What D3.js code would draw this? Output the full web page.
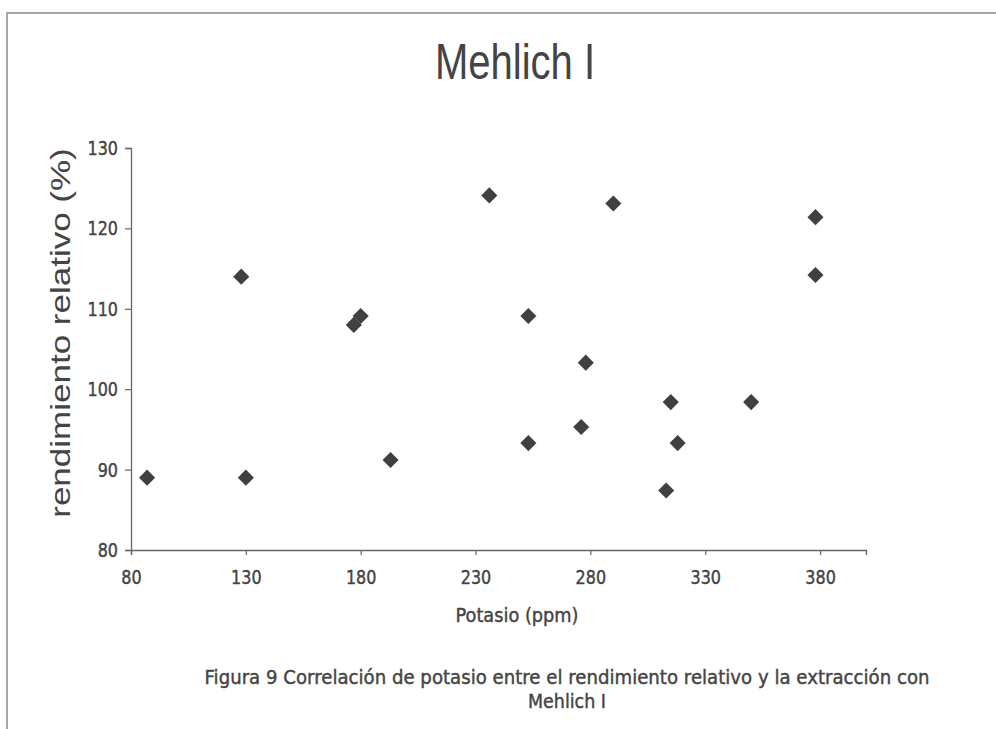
<!DOCTYPE html>
<html>
<head>
<meta charset="utf-8">
<script src="https://cdn.jsdelivr.net/npm/d3@7"></script>
<style>
  body { margin: 0; background: #fff; }
</style>
</head>
<body>
<div id="graph"></div>
<script>
// potasio (ppm) vs rendimiento relativo (%)
const potasio = [87, 128, 130, 177, 180, 193, 236, 253, 253, 276, 278, 290, 313, 315, 318, 350, 378, 378];
const rendimiento = [89, 114, 89, 108, 109.1, 91.2, 124.1, 109.1, 93.3, 95.3, 103.3, 123.1, 87.4, 98.4, 93.3, 98.4, 121.4, 114.2];
const xTicks = [80, 130, 180, 230, 280, 330, 380];
const yTicks = [80, 90, 100, 110, 120, 130];

const W = 996, H = 729;
const margin = { top: 148, right: 130, bottom: 179, left: 131 };
const stretch = 1.25; // scanned picture is taller than it is wide

const svg = d3.select("#graph")
  .append("svg")
  .attr("width", W)
  .attr("height", H);

// page frame (top and left edge of the scan)
svg.append("path")
  .attr("d", "M7,729 L7,13 L996,13")
  .attr("fill", "none")
  .attr("stroke", "#8a8a8a")
  .attr("stroke-width", 1.5);

const x = d3.scaleLinear().domain([80, 400]).range([margin.left, W - margin.right]);
const y = d3.scaleLinear().domain([80, 130]).range([H - margin.bottom, margin.top]);

const tickFont = "'DejaVu Sans', Verdana, sans-serif";

// x axis
const gx = svg.append("g")
  .attr("transform", "translate(0," + (H - margin.bottom) + ")")
  .call(d3.axisBottom(x).tickValues(xTicks).tickSizeOuter(0).tickSize(5).tickPadding(8));

// y axis
const gy = svg.append("g")
  .attr("transform", "translate(" + margin.left + ",0)")
  .call(d3.axisLeft(y).tickValues(yTicks).tickSizeOuter(0).tickSize(6).tickPadding(7));

[gx, gy].forEach(g => {
  g.select(".domain").attr("stroke", "#666").attr("stroke-width", 1.3);
  g.selectAll(".tick line").attr("stroke", "#666").attr("stroke-width", 1.2);
  g.selectAll(".tick text")
    .attr("fill", "#444")
    .attr("stroke", "#444")
    .attr("stroke-width", 0.35)
    .style("font-family", tickFont)
    .style("font-size", "16px");
});
gx.selectAll(".tick text").attr("transform", "scale(1," + stretch + ")").attr("y", 16);
gy.selectAll(".tick text").attr("transform", "scale(1," + stretch + ")");

// points: grey diamonds
svg.append("g")
  .selectAll("path")
  .data(potasio)
  .join("path")
  .attr("transform", (d, i) => "translate(" + x(d) + "," + y(rendimiento[i]) + ") rotate(45)")
  .attr("d", d3.symbol(d3.symbolSquare, 130))
  .attr("fill", "#404040");

// title
svg.append("text")
  .attr("transform", "translate(515,79) scale(1," + stretch + ")")
  .attr("text-anchor", "middle")
  .attr("fill", "#444")
  .style("font-family", "'Liberation Sans', Arial, sans-serif")
  .style("font-size", "40px")
  .text("Mehlich I");

// y label
svg.append("text")
  .attr("transform", "translate(70,333) rotate(-90) scale(" + stretch + ",1)")
  .attr("text-anchor", "middle")
  .attr("fill", "#444")
  .style("font-family", "'Liberation Sans', Arial, sans-serif")
  .style("font-size", "28px")
  .text("rendimiento relativo (%)");

// x label
svg.append("text")
  .attr("transform", "translate(517,622) scale(1," + stretch + ")")
  .attr("text-anchor", "middle")
  .attr("fill", "#444")
  .attr("stroke", "#444")
  .attr("stroke-width", 0.35)
  .attr("textLength", 123)
  .attr("lengthAdjust", "spacingAndGlyphs")
  .style("font-family", tickFont)
  .style("font-size", "16px")
  .text("Potasio (ppm)");

// caption below the chart
const caption = ["Figura 9 Correlación de potasio entre el rendimiento relativo y la extracción con", "Mehlich I"];
const captionWidth = [725, 78];
svg.append("g")
  .selectAll("text")
  .data(caption)
  .join("text")
  .attr("transform", (d, i) => "translate(567," + (684 + i * 24) + ") scale(1," + stretch + ")")
  .attr("text-anchor", "middle")
  .attr("fill", "#444")
  .attr("stroke", "#444")
  .attr("stroke-width", 0.35)
  .attr("textLength", (d, i) => captionWidth[i])
  .attr("lengthAdjust", "spacingAndGlyphs")
  .style("font-family", tickFont)
  .style("font-size", "16px")
  .text(d => d);
</script>
</body>
</html>
